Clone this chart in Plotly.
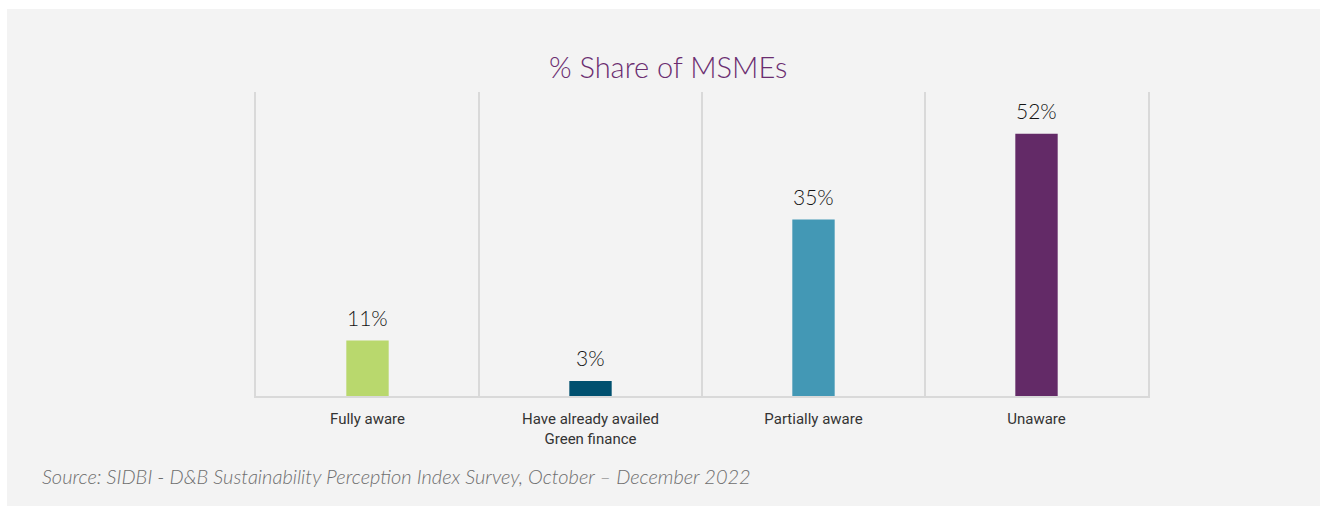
import plotly.graph_objects as go

categories = ["Fully aware", "Have already availed<br>Green finance", "Partially aware", "Unaware"]
values = [11, 3, 35, 52]
labels = ["11%", "3%", "35%", "52%"]
colors = ["#b9d86d", "#00506f", "#4398b5", "#632a67"]

W, H = 1327, 506
L, R, T, B = 256, 1148, 92, 396

fig = go.Figure()
fig.add_trace(go.Bar(
    x=categories, y=values, marker=dict(color=colors, line=dict(width=0)),
    hoverinfo="skip", showlegend=False,
))

for c, v, t in zip(categories, values, labels):
    fig.add_annotation(x=c, y=v, text=t, showarrow=False, yanchor="bottom", yshift=9,
                       font=dict(family="Lato", size=21, color="#141414", weight=300))

def px(xp):
    return (xp - L) / (R - L)

def py(yp):
    return (B - yp) / (B - T)

# grey panel
fig.add_shape(type="rect", xref="paper", yref="paper", x0=px(7), x1=px(1320), y0=py(506), y1=py(9),
              fillcolor="#f3f3f3", line=dict(width=0), layer="below")

fig.add_annotation(xref="paper", yref="paper", x=px(668), y=py(66), text="% Share of MSMEs",
                   showarrow=False, xanchor="center", yanchor="middle",
                   font=dict(family="Lato", size=29, color="#6b2d70", weight=300))

fig.add_annotation(xref="paper", yref="paper", x=px(40), y=py(476),
                   text="<i>Source: SIDBI - D&B Sustainability Perception Index Survey, October – December 2022</i>",
                   showarrow=False, xanchor="left", yanchor="middle",
                   font=dict(family="Lato", size=20, color="#6e6e6e", weight=300))

fig.update_layout(
    width=W, height=H,
    margin=dict(l=L, r=W - R, t=T, b=H - B, pad=0),
    paper_bgcolor="#ffffff", plot_bgcolor="rgba(0,0,0,0)",
    bargap=0.81,
    xaxis=dict(type="category", tickson="boundaries", showgrid=True, gridcolor="#d9d9d9", gridwidth=2,
               ticks="", showline=True, linecolor="#d9d9d9", linewidth=2, mirror=False,
               tickfont=dict(family="Roboto", size=15, color="#333333"), ticklabelstandoff=8,
               fixedrange=True),
    yaxis=dict(range=[0, 60.3], showgrid=False, zeroline=False, showticklabels=False, ticks="",
               showline=True, linecolor="#d9d9d9", linewidth=2, mirror=True, fixedrange=True),
)

fig.write_html("out.html", config={"displayModeBar": False},
               post_script="document.body.style.margin='0';document.body.style.padding='0';")
